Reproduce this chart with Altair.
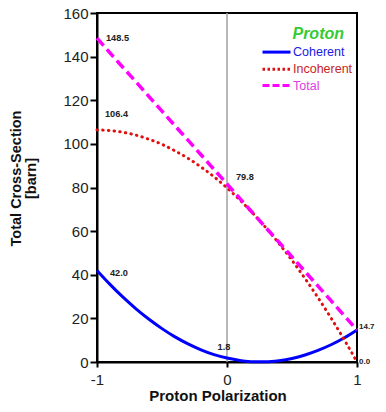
import altair as alt
import pandas as pd

# ---------------- data ----------------
polarization = [-1.0, -0.9, -0.8, -0.7, -0.6, -0.5, -0.4, -0.3, -0.2, -0.1, 0.0,
                0.1, 0.2, 0.3, 0.4, 0.5, 0.6, 0.7, 0.8, 0.9, 1.0]
coherent = [42.0, 35.6, 29.7, 24.4, 19.6, 15.3, 11.5, 8.3, 5.6, 3.4, 1.8,
            0.7, 0.1, 0.1, 0.6, 1.6, 3.2, 5.3, 7.9, 11.0, 14.7]
incoherent = [106.4, 106.1, 105.3, 104.0, 102.1, 99.8, 96.8, 93.4, 89.4, 84.9, 79.8,
              74.2, 68.1, 61.5, 54.3, 46.6, 38.3, 29.5, 20.2, 10.4, 0.0]
total = [148.5, 141.7, 135.0, 128.4, 121.7, 115.0, 108.3, 101.7, 95.0, 88.3, 81.6,
         74.9, 68.2, 61.5, 54.9, 48.2, 41.5, 34.8, 28.1, 21.4, 14.7]

series_names = ["Coherent", "Incoherent", "Total"]
legend_title = "Proton"

value_label_x = [-1, -1, -1, 0, 0, 1, 1]
value_label_y = [148.5, 106.4, 42.0, 79.8, 1.8, 14.7, 0.0]

x_ticks = [-1, 0, 1]
y_ticks = [0, 20, 40, 60, 80, 100, 120, 140, 160]

x_title = "Proton Polarization"
y_title = ["Total Cross-Section", "\u00a0" * 18 + "[barn]"]

# ---------------- styling ----------------
FONT = "Liberation Sans"
line_colors = ["#0000ff", "#e01010", "#ff00ff"]
label_colors = ["#1a1ae6", "#c81e1e", "#e040e0"]
# per-label offsets (dx, dy, align, font size)
label_offsets = [(9, 0, "left", 9.2), (8, -16, "left", 9.2), (13, 3, "left", 9.2),
                 (9, -11, "left", 9.2), (-3, -11, "center", 9.2),
                 (2, -3, "left", 8), (2, 0, "left", 8)]

x_scale = alt.Scale(domain=[-1, 1], nice=False, zero=False)
y_scale = alt.Scale(domain=[0, 160], nice=False, zero=False)

x_axis = alt.Axis(
    values=x_ticks, labelExpr="'' + datum.value", labelFlush=False, labelOverlap=False,
    grid=False, tickSize=5, tickWidth=2, tickColor="black",
    domainColor="black", domainWidth=2,
    labelFont=FONT, labelFontSize=15, labelColor="#222222", labelPadding=5,
    title=x_title, titleFont=FONT, titleFontSize=15, titleFontWeight="bold",
    titleColor="#111111", titleX=120.5, titleY=38, titleAlign="center",
    titleBaseline="alphabetic",
)
y_axis = alt.Axis(
    values=y_ticks, labelFlush=False, labelOverlap=False,
    grid=False, tickSize=7, tickWidth=2, tickColor="black",
    domainColor="black", domainWidth=2,
    labelFont=FONT, labelFontSize=15, labelColor="#222222", labelPadding=2,
    title=y_title, titleFont=FONT, titleFontSize=14.5, titleFontWeight="bold",
    titleColor="#111111", titleAngle=270, titleX=-77, titleY=165,
    titleAlign="center", titleBaseline="alphabetic", titleLineHeight=15,
)


def legend_for(i, legend_y, dash, title=None):
    kw = dict(
        orient="none", legendX=164, legendY=legend_y, padding=0,
        symbolType="stroke", symbolSize=784, symbolStrokeWidth=3,
        labelColor=label_colors[i], labelFont=FONT, labelFontSize=12.5,
        labelOffset=1, labelBaseline="middle",
    )
    if dash:
        kw["symbolDash"] = dash
    if title:
        kw.update(title=title, titleFont=FONT, titleFontSize=16,
                  titleFontStyle="italic", titleFontWeight="bold",
                  titleColor="#33cc33", titleAnchor="end", titlePadding=-5.5)
    else:
        kw["title"] = None
    return alt.Legend(**kw)


def series_layer(i, values, mark_kw, legend):
    df = pd.DataFrame({"polarization": polarization, "sigma": values,
                       "series": series_names[i]})
    return alt.Chart(df).mark_line(interpolate="monotone", **mark_kw).encode(
        x=alt.X("polarization:Q", scale=x_scale, axis=x_axis),
        y=alt.Y("sigma:Q", scale=y_scale, axis=y_axis),
        color=alt.Color("series:N",
                        scale=alt.Scale(domain=[series_names[i]], range=[line_colors[i]]),
                        legend=legend),
    )


zero_line = alt.Chart(pd.DataFrame({"polarization": [0]})).mark_rule(
    color="#a0a0a0", strokeWidth=1.5
).encode(x=alt.X("polarization:Q", scale=x_scale, axis=x_axis))

coh = series_layer(0, coherent, dict(strokeWidth=3),
                   legend_for(0, 13.1, None, legend_title))
inc = series_layer(1, incoherent, dict(strokeWidth=3, strokeDash=[0.5, 5.2], strokeCap="round"),
                   legend_for(1, 40.7, [2.5, 2.5]))
tot = series_layer(2, total, dict(strokeWidth=3.5, strokeDash=[10, 5]),
                   legend_for(2, 57, [7, 3]))

label_layers = []
for lx, ly, (dx, dy, al, fs) in zip(value_label_x, value_label_y, label_offsets):
    ldf = pd.DataFrame({"polarization": [lx], "sigma": [ly]})
    label_layers.append(
        alt.Chart(ldf).mark_text(
            align=al, baseline="middle", dx=dx, dy=dy, font=FONT, fontSize=fs,
            fontWeight="bold", color="#222222"
        ).encode(
            x=alt.X("polarization:Q", scale=x_scale, axis=x_axis),
            y=alt.Y("sigma:Q", scale=y_scale, axis=y_axis),
            text=alt.Text("sigma:Q", format=".1f"),
        )
    )

chart = alt.layer(zero_line, coh, inc, tot, *label_layers).resolve_scale(
    color="independent"
).properties(
    width=260, height=349,
    autosize=alt.AutoSizeParams(type="none"),
    padding={"left": 89, "top": 5, "right": 21, "bottom": 42},
    background="white",
).configure_view(stroke="black", strokeWidth=2)

chart.save("out.html", embed_options={"renderer": "svg", "actions": False})
